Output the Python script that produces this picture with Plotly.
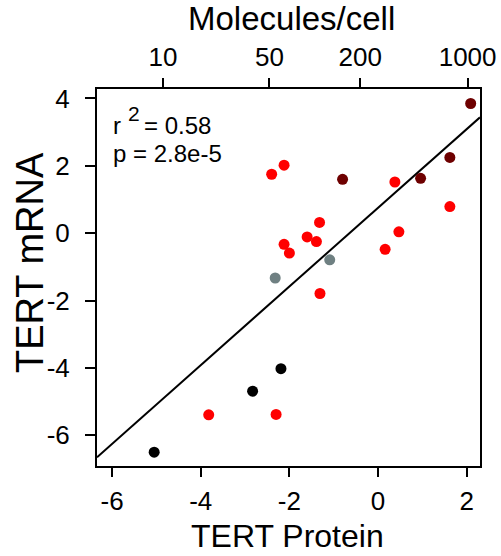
import plotly.graph_objects as go

# ---- data ----
red_x = [-2.12, -2.40, -2.12, -2.00, 0.38, 1.62, -1.32, -1.60, -1.39, 0.47, 0.16, -1.31, -3.82, -2.30]
red_y = [2.02, 1.75, -0.33, -0.59, 1.52, 0.79, 0.32, -0.11, -0.25, 0.04, -0.48, -1.79, -5.39, -5.38]
darkred_x = [2.09, 1.62, -0.80, 0.96]
darkred_y = [3.85, 2.25, 1.60, 1.63]
grey_x = [-2.32, -1.09]
grey_y = [-1.33, -0.79]
black_x = [-2.19, -2.83, -5.05]
black_y = [-4.02, -4.69, -6.50]

fit_slope = 1.168
fit_intercept = 0.754

x_ticks = [-6, -4, -2, 0, 2]
y_ticks = [-6, -4, -2, 0, 2, 4]
top_tick_labels = ["10", "50", "200", "1000"]
top_tick_pos = [-4.85, -2.45, -0.40, 2.02]

x_range = [-6.34, 2.30]
y_range = [-6.91, 4.28]

FONT = "Liberation Sans, Arial, sans-serif"

fig = go.Figure()

line_x = [x_range[0], x_range[1]]
line_y = [fit_intercept + fit_slope * v for v in line_x]
fig.add_trace(go.Scatter(x=line_x, y=line_y, mode="lines",
                         line=dict(color="black", width=2), hoverinfo="skip"))

for xs, ys, col in [(red_x, red_y, "#FF0000"), (darkred_x, darkred_y, "#6E0000"),
                    (grey_x, grey_y, "#6F8082"), (black_x, black_y, "#000000")]:
    fig.add_trace(go.Scatter(x=xs, y=ys, mode="markers",
                             marker=dict(color=col, size=11, line=dict(width=0))))

# invisible trace to anchor top axis
fig.add_trace(go.Scatter(x=[x_range[0]], y=[y_range[0]], xaxis="x2", mode="markers",
                         marker=dict(opacity=0), hoverinfo="skip"))

axis_common = dict(ticks="outside", tickwidth=2, tickcolor="black",
                   showline=True, linewidth=2, linecolor="black",
                   showgrid=False, zeroline=False, automargin=False,
                   tickfont=dict(size=26, family=FONT, color="black"))

fig.update_layout(
    width=501, height=556,
    margin=dict(l=97, r=21, t=89, b=90),
    paper_bgcolor="white", plot_bgcolor="white",
    showlegend=False,
    font=dict(family=FONT, color="black"),
    xaxis=dict(range=x_range, tickvals=x_ticks, ticktext=[str(v) for v in x_ticks],
               ticklen=9, ticklabelstandoff=2, **axis_common),
    xaxis2=dict(range=x_range, overlaying="x", side="top", anchor="y",
                tickvals=top_tick_pos, ticktext=top_tick_labels,
                ticklen=9, ticklabelstandoff=2, **axis_common),
    yaxis=dict(range=y_range, tickvals=y_ticks, ticktext=[str(v) for v in y_ticks],
               ticklen=10, ticklabelstandoff=10, mirror=True, **axis_common),
    annotations=[
        dict(text="TERT Protein", xref="paper", yref="paper", x=0.497, y=-0.186,
             xanchor="center", yanchor="middle", showarrow=False,
             font=dict(size=32, family=FONT)),
        dict(text="Molecules/cell", xref="paper", yref="paper", x=0.507, y=1.188,
             xanchor="center", yanchor="middle", showarrow=False,
             font=dict(size=33, family=FONT)),
        dict(text="TERT mRNA", xref="paper", yref="paper", x=-0.175, y=0.541,
             xanchor="center", yanchor="middle", textangle=-90, showarrow=False,
             font=dict(size=38, family=FONT)),
        dict(text="r", xref="paper", yref="paper", x=0.036, y=0.904,
             xanchor="left", yanchor="middle", showarrow=False, font=dict(size=24, family=FONT)),
        dict(text="2", xref="paper", yref="paper", x=0.077, y=0.934,
             xanchor="left", yanchor="middle", showarrow=False, font=dict(size=21, family=FONT)),
        dict(text="= 0.58", xref="paper", yref="paper", x=0.118, y=0.904,
             xanchor="left", yanchor="middle", showarrow=False, font=dict(size=24, family=FONT)),
        dict(text="p = 2.8e-5", xref="paper", yref="paper", x=0.036, y=0.828,
             xanchor="left", yanchor="middle", showarrow=False, font=dict(size=24, family=FONT)),
    ],
)

fig.write_html("out.html", config={"displayModeBar": False},
               post_script="document.body.style.margin='0';document.body.style.padding='0';")
